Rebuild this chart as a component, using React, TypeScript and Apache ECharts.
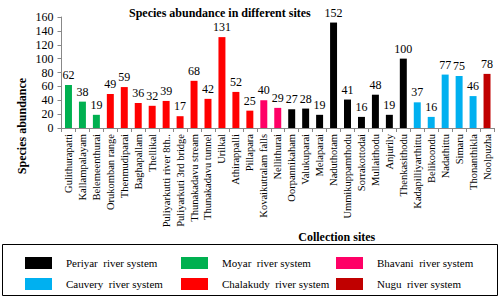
import React, { useEffect, useRef } from "react";
import * as echarts from "echarts";

const sites = [
  "Gulithurapatti", "Kallampalayam", "Belemeenthurai", "Orukomban range", "Thenmudiparai",
  "Baghapallam", "Thellikal", "Puliyarkutti river 8th..", "Puliyarkuti 3rd bridge", "Thunakadavu stream",
  "Thunakadavu tunnel", "Urilkal", "Athirappalli", "Pillapara", "Kovaikutralam falls",
  "Nellithurai", "Oorpannikaham", "Valukuparai", "Melaparai", "Naduthotam",
  "Ummikuppamthodu", "Sorrakottodai", "Mullaithodu", "Anjurily", "Thenkasithodu",
  "Kadapilliyarthittu", "Belikoondu", "Nadathittu", "Simaru", "Thonanthikla", "Noolpuzha",
];
const abundance = [62, 38, 19, 49, 59, 36, 32, 39, 17, 68, 42, 131, 52, 25, 40, 29, 27, 28, 19, 152, 41, 16, 48, 19, 100, 37, 16, 77, 75, 46, 78];
const system = [
  "Moyar", "Moyar", "Moyar", "Chalakudy", "Chalakudy", "Chalakudy", "Chalakudy", "Chalakudy", "Chalakudy", "Chalakudy",
  "Chalakudy", "Chalakudy", "Chalakudy", "Chalakudy", "Bhavani", "Bhavani", "Periyar", "Periyar", "Periyar", "Periyar",
  "Periyar", "Periyar", "Periyar", "Periyar", "Periyar", "Cauvery", "Cauvery", "Cauvery", "Cauvery", "Cauvery", "Nugu",
];
const systems = ["Periyar", "Moyar", "Bhavani", "Cauvery", "Chalakudy", "Nugu"];
const systemColors = ["#000000", "#00B050", "#FF0066", "#00B0F0", "#FF0000", "#C00000"];
const yTicks = [0, 20, 40, 60, 80, 100, 120, 140, 160];

const FONT = "Liberation Serif";

export default function App() {
  const ref = useRef<HTMLDivElement>(null);
  useEffect(() => {
    document.body.style.margin = "0";
    document.body.style.overflow = "hidden";
    if (!ref.current) return;
    const chart = echarts.init(ref.current, undefined, { renderer: "svg" });
    const series = systems.map((s, si) => ({
      name: s + "  river system",
      type: "bar",
      stack: "all",
      barWidth: "50%",
      itemStyle: { color: systemColors[si] },
      label: {
        show: true,
        position: "top",
        distance: 4,
        fontFamily: FONT,
        fontSize: 12,
        color: "#000",
        formatter: (p: any) => String(p.value),
      },
      data: abundance.map((v, i) => (system[i] === s ? v : "-")),
    }));
    const legendCommon = {
      orient: "vertical",
      itemWidth: 27,
      itemHeight: 12,
      itemGap: 9,
      icon: "rect",
      textStyle: { fontFamily: FONT, fontSize: 11, color: "#000", padding: [0, 0, 0, 9] },
      selectedMode: false,
    };
    chart.setOption({
      animation: false,
      textStyle: { fontFamily: FONT },
      title: {
        text: "Species abundance in different sites",
        left: 124,
        top: 2,
        textStyle: { fontFamily: FONT, fontSize: 12, fontWeight: "bold", color: "#000" },
      },
      grid: { left: 61.5, right: 7, top: 17, bottom: 171, containLabel: false },
      xAxis: {
        type: "category",
        data: sites,
        name: "Collection sites",
        nameLocation: "middle",
        nameGap: 85,
        nameTextStyle: { fontFamily: FONT, fontSize: 12, fontWeight: "bold", color: "#000", padding: [0, 0, 0, 118] },
        axisLine: { lineStyle: { color: "#888", width: 1 } },
        axisTick: { show: true, alignWithLabel: false, length: 4, lineStyle: { color: "#888" } },
        axisLabel: { rotate: 90, interval: 0, fontFamily: FONT, fontSize: 10.5, color: "#000", margin: 6 },
      },
      yAxis: {
        type: "value",
        min: 0,
        max: yTicks[yTicks.length - 1],
        interval: 20,
        axisLine: { show: true, lineStyle: { color: "#888", width: 1 } },
        axisTick: { show: true, length: 4, lineStyle: { color: "#888" } },
        splitLine: { show: false },
        axisLabel: { fontFamily: FONT, fontSize: 12, color: "#000", margin: 8 },
      },
      legend: [
        { ...legendCommon, left: 20, top: 252, data: [series[0].name, series[3].name] },
        { ...legendCommon, left: 176, top: 252, data: [series[1].name, series[4].name] },
        { ...legendCommon, left: 331, top: 252, data: [series[2].name, series[5].name] },
      ],
      graphic: [
        {
          type: "text",
          x: 22,
          y: 126,
          rotation: Math.PI / 2,
          style: {
            text: "Species abundance",
            fontFamily: FONT,
            fontSize: 12,
            fontWeight: "bold",
            fill: "#000",
            align: "center",
            verticalAlign: "middle",
          },
        },
        {
          type: "rect",
          shape: { x: 2.5, y: 244.5, width: 495, height: 51 },
          style: { fill: "none", stroke: "#000", lineWidth: 1 },
          silent: true,
        },
      ],
      series,
    });
    return () => chart.dispose();
  }, []);
  return <div ref={ref} style={{ width: 501, height: 299 }} />;
}
